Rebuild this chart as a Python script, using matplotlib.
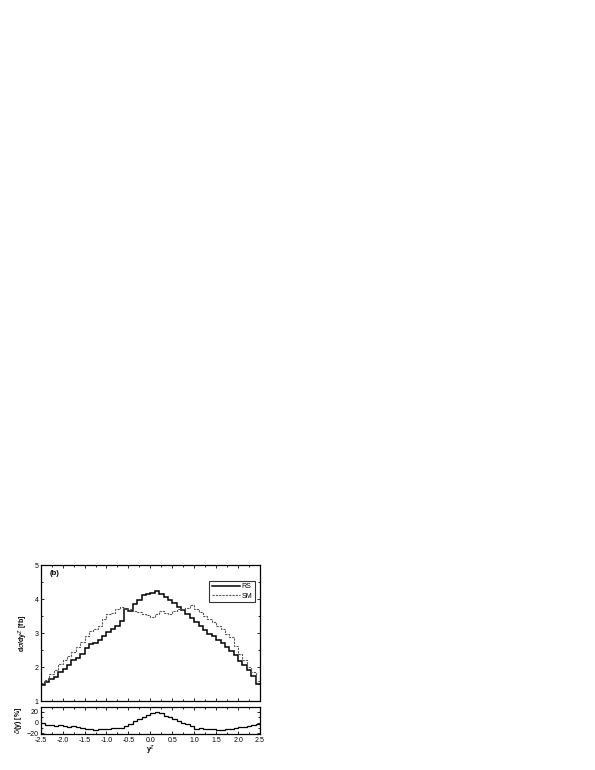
import numpy as np
import matplotlib
matplotlib.use("Agg")
import matplotlib.pyplot as plt
from matplotlib.ticker import MultipleLocator, FormatStrFormatter

plt.rcParams['font.family'] = ['Liberation Sans', 'DejaVu Sans']

# bin edges in y^Z (50 bins of 0.1)
edges = np.linspace(-2.5, 2.5, 51)

# dsigma/dy [fb]
rs = [1.48, 1.55, 1.65, 1.72, 1.85, 1.95, 2.05, 2.20, 2.27, 2.38,
      2.55, 2.68, 2.72, 2.78, 2.92, 3.02, 3.12, 3.22, 3.35, 3.72,
      3.66, 3.85, 3.98, 4.12, 4.15, 4.17, 4.25, 4.15, 4.05, 3.97,
      3.88, 3.78, 3.68, 3.55, 3.45, 3.32, 3.20, 3.08, 2.98, 2.90,
      2.80, 2.70, 2.60, 2.48, 2.35, 2.18, 2.05, 1.90, 1.75, 1.50]
sm = [1.52, 1.62, 1.78, 1.92, 2.10, 2.20, 2.32, 2.45, 2.60, 2.75,
      2.90, 3.05, 3.12, 3.20, 3.40, 3.55, 3.60, 3.72, 3.76, 3.72,
      3.70, 3.65, 3.62, 3.57, 3.52, 3.47, 3.55, 3.65, 3.60, 3.55,
      3.65, 3.72, 3.70, 3.73, 3.82, 3.70, 3.62, 3.50, 3.42, 3.32,
      3.22, 3.12, 2.98, 2.88, 2.62, 2.38, 2.20, 2.00, 1.85, 1.60]

# relative deviation [%]
delta = [0, -4, -4, -7, -5, -6, -8, -7, -8, -10,
         -11, -12, -13, -12, -11, -12, -10, -10, -9, -6,
         -2, 3, 6, 10, 14, 19, 20, 19, 12, 10,
         7, 3, 0, -3, -6, -11, -10, -12, -11, -12,
         -13, -14, -12, -11, -10, -8, -8, -6, -5, -3]

fig = plt.figure(figsize=(5.95, 7.7), dpi=100)
ax = fig.add_axes([0.0684, 0.0896, 0.3686, 0.1766])
ax2 = fig.add_axes([0.0684, 0.0468, 0.3686, 0.0355])

ax.stairs(rs, edges, baseline=None, color='black', lw=1.1, label='RS')
ax.stairs(sm, edges, baseline=None, color='#555555', lw=0.8, ls=(0, (2, 1)), label='SM')
ax.set_xlim(-2.5, 2.5)
ax.set_ylim(1, 5)
ax.set_ylabel(r'd$\sigma$/dy$^Z$ [fb]', fontsize=5, fontweight='bold', labelpad=3)
ax.text(-2.3, 4.7, '(b)', fontsize=5.5, fontweight='bold')
leg = ax.legend(loc='upper right', bbox_to_anchor=(0.992, 0.91), fontsize=5,
                frameon=True, fancybox=False, edgecolor='black', handlelength=4.0,
                borderpad=0.35, labelspacing=0.35, handletextpad=0.3)
leg.get_frame().set_linewidth(0.8)
ax.tick_params(labelbottom=False)

ax2.stairs(delta, edges, baseline=None, color='black', lw=0.9)
ax2.set_xlim(-2.5, 2.5)
ax2.set_ylim(-21, 30)
ax2.set_yticks([-20, 0, 20])
ax2.set_xlabel(r'y$^Z$', fontsize=5, fontweight='bold', labelpad=0)
ax2.set_ylabel(r'$\delta$(y) [%]', fontsize=5, fontweight='bold', labelpad=2)

for a in (ax, ax2):
    a.xaxis.set_major_locator(MultipleLocator(0.5))
    a.xaxis.set_minor_locator(MultipleLocator(0.25))
    a.tick_params(which='both', direction='in', top=True, right=True,
                  labelsize=5, width=0.6, pad=1.5)
    a.tick_params(which='major', length=2.5)
    a.tick_params(which='minor', length=1.5)
    for s in a.spines.values():
        s.set_linewidth(0.9)
ax.yaxis.set_major_locator(MultipleLocator(1))
ax.yaxis.set_minor_locator(MultipleLocator(0.5))
ax2.yaxis.set_minor_locator(MultipleLocator(10))
ax2.xaxis.set_major_formatter(FormatStrFormatter('%.1f'))
ax2.tick_params(axis='x', pad=2.2)

fig.savefig('out.png', dpi=100)
